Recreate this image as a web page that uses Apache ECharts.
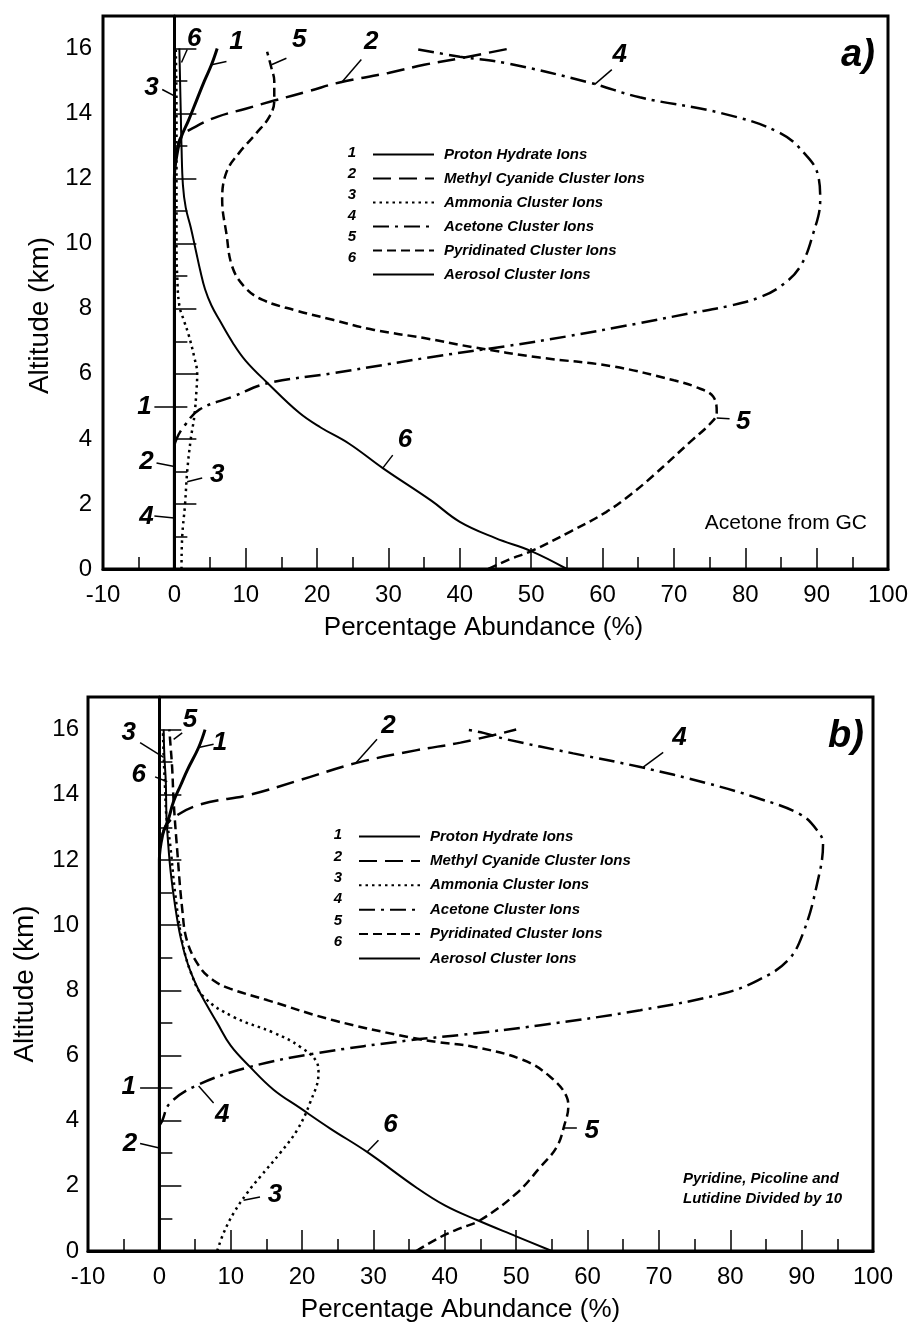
<!DOCTYPE html>
<html>
    <head>
        <meta charset="utf-8">
        <script src="https://cdn.jsdelivr.net/npm/echarts@6.0.0/dist/echarts.min.js"></script>
        <style>
            html, body { margin: 0; padding: 0; background: #fff; }
            #main { width: 912px; height: 1329px; }
        </style>
    </head>
    <body>
        <div id="main"></div>
        <script>

        var myChart = echarts.init(document.getElementById('main'));

        var FONT = '"Liberation Sans", Arial, Helvetica, sans-serif';

        var ionNames = [
            'Proton Hydrate Ions',
            'Methyl Cyanide Cluster Ions',
            'Ammonia Cluster Ions',
            'Acetone Cluster Ions',
            'Pyridinated Cluster Ions',
            'Aerosol Cluster Ions'
        ];
        var ionNumbers = ['1', '2', '3', '4', '5', '6'];

        // panel a) -- points are [abundance %, altitude km]
        var protonA = [[0, 0], [0, 4], [0, 8], [0, 12], [0.5, 12.9], [1, 13.3], [2, 13.8], [3.1, 14.4], [4.2, 15], [5.2, 15.5], [6, 16]];
        var cyanideA = [[0, 0], [0, 6], [0, 12], [0.4, 12.9], [1, 13.3], [3, 13.6], [6, 13.9], [10, 14.15], [14, 14.4], [19, 14.7], [23, 14.95], [30, 15.25], [35, 15.5], [40, 15.7], [47, 16]];
        var ammoniaA = [[1, 0], [1.1, 1], [1.5, 2], [1.8, 3], [2.3, 4], [2.8, 4.7], [3.1, 5.5], [3.2, 6], [2.8, 6.5], [2, 7.2], [1.4, 7.6], [0.7, 8.1], [0.4, 9], [0.3, 10], [0.3, 12], [0.3, 14], [0.2, 16]];
        var acetoneA = [[0, 0], [0, 2], [0, 3.7], [0.3, 4], [1.4, 4.4], [3.5, 4.9], [8.2, 5.3], [12.9, 5.7], [22.2, 6.02], [30, 6.3], [37, 6.55], [46.5, 6.85], [55, 7.15], [65, 7.55], [72, 7.85], [78, 8.1], [82, 8.35], [85, 8.7], [87.7, 9.3], [89.5, 10.3], [90.5, 11.35], [90.2, 12.1], [88.6, 12.7], [84.9, 13.4], [76.9, 14], [65.2, 14.5], [58.2, 14.95], [46.5, 15.55], [40, 15.75], [33.4, 16]];
        var pyridA = [[44, 0], [47, 0.3], [50, 0.55], [55.5, 1.15], [60.5, 1.75], [64, 2.3], [67, 2.85], [72.6, 3.97], [75, 4.45], [76, 4.8], [75.5, 5.3], [73, 5.6], [70, 5.8], [61.4, 6.23], [51.2, 6.5], [41.8, 6.82], [35, 7.1], [28, 7.35], [22.2, 7.66], [17, 7.95], [12.3, 8.28], [9.8, 8.68], [8.1, 9.3], [7.3, 10.3], [6.7, 11.35], [7.3, 12.2], [9.1, 12.8], [11.5, 13.4], [13.3, 13.9], [14, 14.4], [14, 15], [13.6, 15.4], [13, 15.9]];
        var aerosolA = [[55, 0], [50, 0.55], [45, 0.95], [40, 1.45], [36, 2.1], [29.2, 3.1], [24.5, 3.85], [20.5, 4.35], [17.5, 4.8], [12.9, 5.75], [10, 6.4], [8.2, 6.95], [6.3, 7.66], [5.2, 8.1], [4.3, 8.6], [3.6, 9.2], [3, 9.8], [2.3, 10.5], [1.6, 11.1], [1.2, 11.8], [1, 13], [0.9, 14], [0.8, 15], [0.7, 16]];

        // panel b)
        var protonB = [[0, 0], [0, 4], [0, 8], [0, 12], [0.5, 12.8], [1.2, 13.2], [2, 13.8], [3, 14.3], [3.9, 14.75], [5.5, 15.45], [6.4, 16]];
        var cyanideB = [[0, 0], [0, 6], [0, 12], [0.6, 12.9], [2, 13.3], [5.7, 13.7], [12.7, 14], [19.7, 14.45], [27.5, 14.97], [36.1, 15.37], [42.2, 15.6], [50, 16]];
        var ammoniaB = [[8.1, 0], [9, 0.55], [10.4, 1.16], [12.3, 1.78], [14.1, 2.27], [16.9, 3], [19.3, 3.71], [21.1, 4.54], [22.3, 5.46], [22.1, 5.77], [19.7, 6.27], [16, 6.7], [10.4, 7.18], [6.2, 7.8], [4.5, 8.5], [3.2, 9.5], [2.2, 11], [1.5, 12.5], [1, 13.3], [0.8, 14.2], [0.6, 15.2], [0.5, 16]];
        var acetoneB = [[0, 0], [0, 3.8], [0.4, 4], [1.5, 4.54], [5.3, 5.09], [12.7, 5.65], [22.1, 6.07], [35.2, 6.47], [42.2, 6.63], [53.4, 6.93], [67.4, 7.39], [79, 7.9], [83.8, 8.3], [88, 8.9], [90.2, 9.75], [92.2, 11.3], [93, 12.5], [92.2, 12.9], [89.8, 13.4], [83.8, 13.9], [76.8, 14.35], [67.4, 14.85], [58, 15.27], [48.7, 15.7], [45.4, 15.9], [43, 16]];
        var pyridB = [[36, 0], [39.4, 0.43], [42.2, 0.7], [45, 0.95], [50.1, 1.78], [53.4, 2.58], [55.7, 3.2], [56.8, 3.9], [57.3, 4.42], [57.1, 4.72], [54.8, 5.34], [51, 5.86], [44, 6.27], [39.4, 6.4], [35.2, 6.55], [24.4, 7.08], [15.1, 7.7], [9.9, 8.05], [7.6, 8.3], [5.7, 8.7], [3.9, 9.5], [3.2, 10.5], [2.5, 12.3], [2, 13.8], [1.8, 14.8], [1.5, 15.7], [1.4, 16]];
        var aerosolB = [[55, 0], [50, 0.45], [44.5, 0.95], [40, 1.4], [36, 1.95], [29.1, 3.04], [24, 3.75], [19.7, 4.39], [16, 4.95], [12.7, 5.65], [10, 6.3], [8.1, 7], [6.5, 7.6], [5.3, 8.1], [4, 8.8], [3, 9.6], [2.2, 10.6], [1.6, 11.6], [1.2, 12.6], [1, 13.3], [0.9, 14.4], [0.7, 15.2], [0.6, 16]];

        var curvesA = [protonA, cyanideA, ammoniaA, acetoneA, pyridA, aerosolA];
        var curvesB = [protonB, cyanideB, ammoniaB, acetoneB, pyridB, aerosolB];

        // curve numbers written on the plot: [text, textX, textY, tickFromX, tickFromY, tickToX, tickToY]
        var tagsA = [
            ['6', 2.8, 16.3, 1.0, 15.57, 1.8, 15.97],
            ['1', 8.7, 16.2, 5.2, 15.5, 7.3, 15.6],
            ['5', 17.5, 16.28, 13.6, 15.5, 15.7, 15.7],
            ['2', 27.6, 16.2, 23.4, 14.95, 26.2, 15.66],
            ['3', -3.2, 14.8, -1.7, 14.74, 0.4, 14.5],
            ['4', 62.4, 15.8, 58.9, 14.9, 61.3, 15.35],
            ['1', -4.2, 5.0, -2.8, 5.0, -0.1, 5.0],
            ['2', -3.9, 3.3, -2.5, 3.26, 0, 3.15],
            ['4', -3.9, 1.6, -2.8, 1.63, 0, 1.57],
            ['3', 6.0, 2.9, 1.8, 2.68, 3.9, 2.8],
            ['6', 32.3, 3.97, 29.2, 3.1, 30.6, 3.5],
            ['5', 79.7, 4.52, 76, 4.64, 77.8, 4.62]
        ];
        var tagsB = [
            ['3', -4.3, 15.9, -2.7, 15.6, 0.6, 15.15],
            ['5', 4.3, 16.3, 2.0, 15.7, 3.2, 15.9],
            ['1', 8.5, 15.6, 5.5, 15.45, 7.6, 15.55],
            ['6', -2.9, 14.6, -0.6, 14.55, 1.1, 14.4],
            ['2', 32.1, 16.13, 27.5, 14.97, 30.5, 15.7],
            ['4', 72.9, 15.75, 67.8, 14.85, 70.6, 15.3],
            ['1', -4.3, 5.03, -2.7, 5.0, -0.1, 5.0],
            ['2', -4.1, 3.3, -2.7, 3.3, 0, 3.16],
            ['4', 8.8, 4.17, 5.5, 5.06, 7.6, 4.54],
            ['3', 16.2, 1.72, 11.8, 1.56, 14.1, 1.66],
            ['6', 32.4, 3.87, 29.1, 3.04, 30.7, 3.4],
            ['5', 60.6, 3.7, 56.6, 3.77, 58.5, 3.77]
        ];

        var lineWidths = [3, 2.5, 2.5, 2.5, 2.5, 2];
        var lineTypes = ['solid', [18, 8], [2.5, 4], [16, 6, 3, 6], [9, 5], 'solid'];

        function curveSeries(curves, gi) {
            return curves.map(function (pts, i) {
                return {
                    name: ionNames[i],
                    type: 'line',
                    xAxisIndex: gi,
                    yAxisIndex: gi,
                    data: pts,
                    smooth: 0.4,
                    symbol: 'none',
                    silent: true,
                    lineStyle: {color: '#000', width: lineWidths[i], type: lineTypes[i]},
                    itemStyle: {color: '#000'}
                };
            });
        }

        function tagSeries(tags, gi) {
            return [
                {
                    type: 'lines',
                    coordinateSystem: 'cartesian2d',
                    xAxisIndex: gi,
                    yAxisIndex: gi,
                    silent: true,
                    lineStyle: {color: '#000', width: 1.5, opacity: 1, curveness: 0},
                    data: tags.map(function (t) {
                        return {coords: [[t[3], t[4]], [t[5], t[6]]]};
                    })
                },
                {
                    type: 'scatter',
                    xAxisIndex: gi,
                    yAxisIndex: gi,
                    silent: true,
                    symbolSize: 1,
                    itemStyle: {color: 'rgba(0,0,0,0)', opacity: 1},
                    label: {
                        show: true,
                        position: 'inside',
                        formatter: '{b}',
                        fontFamily: FONT,
                        fontSize: 26,
                        fontWeight: 'bold',
                        fontStyle: 'italic',
                        color: '#000',
                        opacity: 1
                    },
                    data: tags.map(function (t) {
                        return {name: t[0], value: [t[1], t[2]]};
                    })
                }
            ];
        }

        function xAxisFor(gi, shift) {
            return {
                type: 'value',
                gridIndex: gi,
                min: -10,
                max: 100,
                interval: 10,
                name: 'Percentage Abundance (%)',
                nameLocation: 'middle',
                nameGap: 46,
                nameTextStyle: {fontFamily: FONT, fontSize: 26, color: '#000', padding: [0, shift, 0, 0]},
                axisLine: {show: true, onZero: false, lineStyle: {color: '#000', width: 3}},
                axisTick: {inside: true, length: 21, lineStyle: {color: '#000', width: 1.5}},
                minorTick: {show: true, splitNumber: 2, length: 12, lineStyle: {color: '#000', width: 1.5}},
                splitLine: {show: false},
                minorSplitLine: {show: false},
                axisLabel: {fontFamily: FONT, fontSize: 24, color: '#000', margin: 14}
            };
        }

        function yAxisFor(gi, shift, margin) {
            return {
                type: 'value',
                gridIndex: gi,
                min: 0,
                max: 17,
                interval: 2,
                name: 'Altitude (km)',
                nameLocation: 'middle',
                nameGap: 49,
                nameTextStyle: {fontFamily: FONT, fontSize: 28, color: '#000', padding: [0, shift, 0, 0]},
                axisLine: {show: true, lineStyle: {color: '#000', width: 3}},
                axisTick: {inside: true, length: 22, lineStyle: {color: '#000', width: 1.5}},
                minorTick: {show: true, splitNumber: 2, length: 13, lineStyle: {color: '#000', width: 1.5}},
                splitLine: {show: false},
                minorSplitLine: {show: false},
                axisLabel: {fontFamily: FONT, fontSize: 24, color: '#000', margin: margin, showMaxLabel: false}
            };
        }

        var legendText = {fontFamily: FONT, fontSize: 15, fontWeight: 'bold', fontStyle: 'italic', color: '#000', padding: [0, 0, 0, 5]};

        function legendFor(left, top, gap) {
            return {
                data: ionNames,
                orient: 'vertical',
                left: left,
                top: top,
                itemWidth: 61,
                itemHeight: 12,
                itemGap: gap,
                padding: 0,
                selectedMode: false,
                itemStyle: {opacity: 0},
                textStyle: legendText
            };
        }

        function legendNumbers(x, y0, step) {
            return ionNumbers.map(function (n, i) {
                return {
                    type: 'text',
                    x: x,
                    y: y0 + i * step,
                    style: {
                        text: n, fontFamily: FONT, fontSize: 15, fontWeight: 'bold', fontStyle: 'italic',
                        fill: '#000', align: 'center', verticalAlign: 'middle'
                    }
                };
            });
        }

        var graphics = legendNumbers(352, 153, 21).concat(legendNumbers(338, 835, 21.4)).concat([
            {
                type: 'text', x: 858, y: 56,
                style: {text: 'a)', fontFamily: FONT, fontSize: 38, fontWeight: 'bold', fontStyle: 'italic', fill: '#000', align: 'center', verticalAlign: 'middle'}
            },
            {
                type: 'text', x: 846, y: 737,
                style: {text: 'b)', fontFamily: FONT, fontSize: 38, fontWeight: 'bold', fontStyle: 'italic', fill: '#000', align: 'center', verticalAlign: 'middle'}
            },
            {
                type: 'text', x: 867, y: 523,
                style: {text: 'Acetone from GC', fontFamily: FONT, fontSize: 21, fill: '#000', align: 'right', verticalAlign: 'middle'}
            },
            {
                type: 'text', x: 683, y: 1189,
                style: {
                    text: 'Pyridine, Picoline and\nLutidine Divided by 10', fontFamily: FONT, fontSize: 15,
                    fontWeight: 'bold', fontStyle: 'italic', lineHeight: 20, fill: '#000', align: 'left', verticalAlign: 'middle'
                }
            }
        ]);

        myChart.setOption({
            backgroundColor: '#fff',
            animation: false,
            grid: [
                {left: 103, top: 16, width: 785, height: 553, show: true, borderColor: '#000', borderWidth: 3},
                {left: 88, top: 697, width: 785, height: 554, show: true, borderColor: '#000', borderWidth: 3}
            ],
            xAxis: [xAxisFor(0, 24), xAxisFor(1, 40)],
            yAxis: [yAxisFor(0, 46, 11), yAxisFor(1, 20, 9)],
            legend: [legendFor(372, 147, 9), legendFor(358, 829, 9.4)],
            graphic: graphics,
            series: []
                .concat(curveSeries(curvesA, 0))
                .concat(curveSeries(curvesB, 1))
                .concat(tagSeries(tagsA, 0))
                .concat(tagSeries(tagsB, 1))
        });

        </script>
    </body>
</html>
